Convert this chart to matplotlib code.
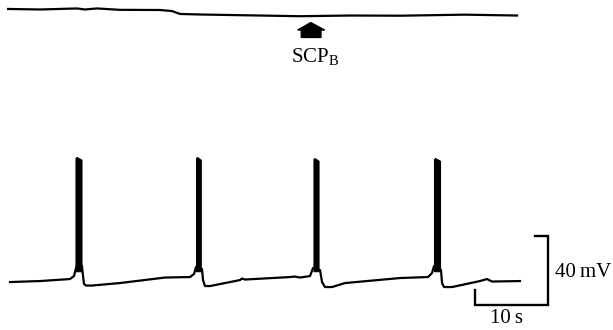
import matplotlib
matplotlib.use("Agg")
import matplotlib.pyplot as plt
from matplotlib.patches import Polygon

plt.rcParams['font.family'] = ['Liberation Serif', 'DejaVu Serif']
plt.rcParams['mathtext.fontset'] = 'custom'
plt.rcParams['mathtext.rm'] = 'Liberation Serif'
plt.rcParams['mathtext.it'] = 'Liberation Serif:italic'

# ---- data (time in s, potential in mV, relative) ----
# lower trace: membrane potential between bursts
low_t = [0, 4.11, 8.22, 8.77, 9.04, 9.18, 9.86, 10.0, 10.14, 10.41, 11.23, 15.07,
         21.23, 24.66, 25.21, 25.48, 26.3, 26.44, 26.71, 27.4, 31.51, 31.78, 32.19,
         38.36, 39.04, 39.73, 41.1, 41.51, 42.47, 42.74, 43.15, 44.11, 45.89,
         53.42, 57.26, 57.81, 58.08, 59.04, 59.18, 59.45, 60.55, 64.38, 65.34,
         66.03, 69.86]
low_v = [0, 0.58, 1.74, 3.48, 8.12, 9.86, 9.28, 3.48, -1.16, -2.03, -2.03, -0.58,
         2.61, 2.90, 4.64, 8.70, 7.54, 1.16, -2.32, -2.32, 1.16, 2.03, 1.45,
         2.90, 3.19, 2.61, 3.48, 8.12, 6.96, 0.0, -2.9, -2.9, -0.58,
         2.32, 2.90, 5.22, 9.28, 6.96, -0.58, -2.9, -2.9, 0.58, 1.74,
         0.29, 0.58]
# bursts of spikes (start, end in s) and peak (mV)
burst_start = [9.04, 25.55, 41.64, 58.15]
burst_end = [9.86, 26.2, 42.33, 58.97]
burst_peak = [71.6, 71.6, 71.0, 71.0]
burst_base = 6.0

# upper trace
up_t = [-0.27, 4.11, 9.18, 10.27, 11.92, 15.07, 20.55, 22.19, 23.29, 26.03,
        34.25, 39.73, 46.58, 53.42, 62.33, 69.45]
up_v = [158.3, 158.0, 158.6, 158.0, 158.6, 157.8, 157.7, 157.1, 155.4, 155.1,
        154.5, 154.1, 154.5, 154.4, 155.0, 154.5]

# scale bar
scale_t = 10
scale_v = 40

fig = plt.figure(figsize=(6.13, 3.30), dpi=100)
ax = fig.add_axes([0, 0, 1, 1])
ax.set_xlim(-1.37, 82.6)
ax.set_ylim(-27.8, 163.5)
ax.axis('off')

ax.plot(low_t, low_v, color='black', lw=1.6, solid_joinstyle='round')
for s, e, p in zip(burst_start, burst_end, burst_peak):
    ax.fill([s, s, s + 0.15, e, e], [burst_base, p, p + 0.6, p - 1.0, burst_base],
            color='black', lw=0.8, ec='black')
ax.plot(up_t, up_v, color='black', lw=1.6)

# arrow marking SCPB application
arrow = Polygon([(41.2, 150.4), (43.1, 146.1), (42.6, 146.1), (42.6, 141.8),
                 (39.9, 141.8), (39.9, 146.1), (39.4, 146.1)],
                closed=True, color='black')
ax.add_patch(arrow)
ax.text(41.8, 137.0, r'SCP$_{\mathrm{B}}$', ha='center', va='top', fontsize=15)

# scale bar
x0, x1 = 63.7, 63.7 + scale_t
y0, y1 = -13.3, -13.3 + scale_v
ax.plot([x0, x0, x1, x1, x1 - 1.8], [-4.6, y0, y0, y1, y1], color='black', lw=1.7,
        solid_joinstyle='miter')
ax.text(x1 + 0.9, (y0 + y1) / 2 - 1.0, '40\u2009mV', ha='left', va='center', fontsize=15)
ax.text((x0 + x1) / 2 - 0.7, y0 - 2.2, '10\u2009s', ha='center', va='top', fontsize=15)

fig.savefig('out.png', dpi=100)
